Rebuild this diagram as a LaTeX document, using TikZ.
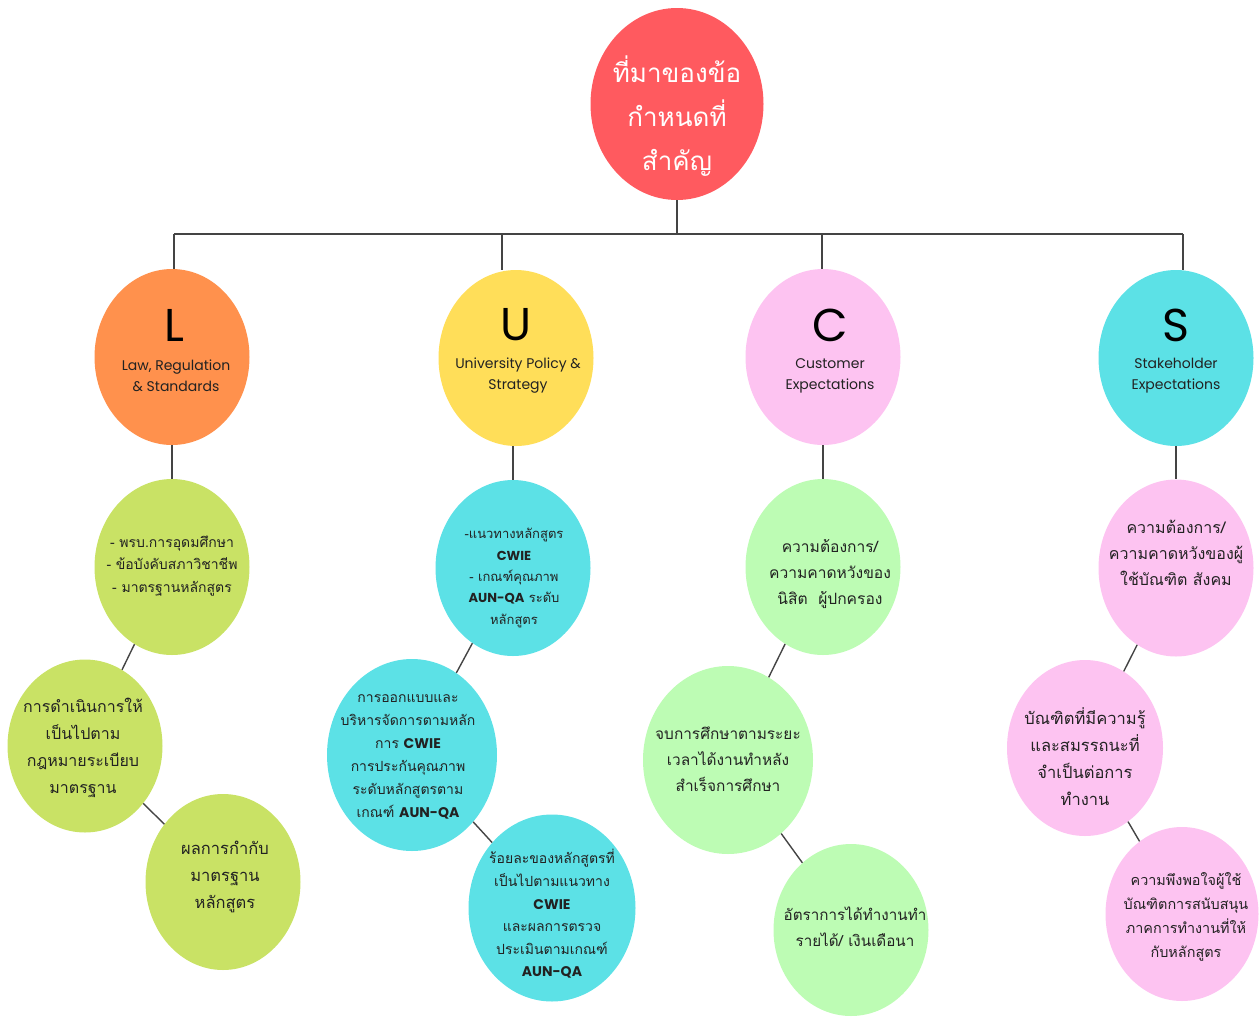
\documentclass[tikz,border=0pt]{standalone}
\usepackage{fontspec}
\setmainfont{Poppins}
\newfontfamily\thai[Script=Thai]{Loma}
\usetikzlibrary{shapes.geometric}
\definecolor{toprd}{HTML}{FF5A5F}
\definecolor{orng}{HTML}{FF914D}
\definecolor{yell}{HTML}{FFDE59}
\definecolor{pnk}{HTML}{FDC3F1}
\definecolor{cyn}{HTML}{5CE1E6}
\definecolor{lime}{HTML}{C9E265}
\definecolor{mint}{HTML}{BDFCB4}
\definecolor{ink}{HTML}{222222}
\definecolor{wire}{HTML}{444444}
\newcommand\engb[1]{{\rmfamily\bfseries #1}}

\begin{document}
\begin{tikzpicture}[x=1pt, y=-1pt,
    bub/.style={ellipse, fill=#1, inner sep=0pt, minimum width=155pt, minimum height=176pt},
    txt/.style 2 args={align=center, text=ink, font=\thai\fontsize{#1}{#2}\selectfont},
    eng/.style={align=center, text=ink, font=\fontsize{14}{21}\selectfont},
    big/.style={text=black, font=\fontsize{46}{46}\selectfont},
    wire/.style={draw=wire, line width=1.4pt}]
    \useasboundingbox (0,0) rectangle (1259,1018);
    % root
    \node [bub=toprd, minimum width=173pt, minimum height=192pt] (root) at (677,104) {};
    \node [txt={26}{44}, text=white] (roott) at (677,116) {ที่มาของข้อ\\กำหนดที่\\สำคัญ};
    % L U C S
    \node [bub=orng] (L) at (172,357) {};
    \node [bub=yell] (U) at (516,358) {};
    \node [bub=pnk] (C) at (823,357) {};
    \node [bub=cyn] (S) at (1176,358) {};
    \node [big] (Lk) at (174,325) {L};
    \node [big] (Uk) at (516,325) {U};
    \node [big] (Ck) at (830,325) {C};
    \node [big] (Sk) at (1176,325) {S};
    \node [eng] (Lt) at (176,376) {Law, Regulation\\\& Standards};
    \node [eng] (Ut) at (518,376) {University Policy \&\\Strategy};
    \node [eng] (Ct) at (830,376) {Customer\\Expectations};
    \node [eng] (St) at (1176,376) {Stakeholder\\Expectations};
    % L column
    \node [bub=lime] (L1) at (172,567) {};
    \node [bub=lime, minimum height=173pt] (L2) at (85,746) {};
    \node [bub=lime] (L3) at (223,882) {};
    \node [txt={14}{22.5}] (L1t) at (172,566) {- พรบ.การอุดมศึกษา\\- ข้อบังคับสภาวิชาชีพ\\- มาตรฐานหลักสูตร};
    \node [txt={16}{27}] (L2t) at (83,748) {การดำเนินการให้\\เป็นไปตาม\\กฎหมายระเบียบ\\มาตรฐาน};
    \node [txt={16.5}{27}] (L3t) at (225,877) {ผลการกำกับ\\มาตรฐาน\\หลักสูตร};
    % U column
    \node [bub=cyn] (U1) at (513,568) {};
    \node [bub=cyn, minimum width=170pt, minimum height=192pt] (U2) at (412,755) {};
    \node [bub=cyn, minimum width=167pt, minimum height=187pt] (U3) at (552,908) {};
    \node [txt={13}{21.3}] (U1t) at (514,578) {-แนวทางหลักสูตร\\\engb{CWIE}\\- เกณฑ์คุณภาพ\\\engb{AUN-QA} ระดับ\\หลักสูตร};
    \node [txt={14}{23}] (U2t) at (408,757) {การออกแบบและ\\บริหารจัดการตามหลัก\\การ \engb{CWIE}\\การประกันคุณภาพ\\ระดับหลักสูตรตาม\\เกณฑ์ \engb{AUN-QA}};
    \node [txt={14}{22.6}] (U3t) at (552,914) {ร้อยละของหลักสูตรที่\\เป็นไปตามแนวทาง\\\engb{CWIE}\\และผลการตรวจ\\ประเมินตามเกณฑ์\\\engb{AUN-QA}};
    % C column
    \node [bub=mint] (C1) at (823,567) {};
    \node [bub=mint, minimum width=170pt, minimum height=188pt] (C2) at (728,760) {};
    \node [bub=mint, minimum height=172pt] (C3) at (851,930) {};
    \node [txt={15.6}{26}] (C1t) at (830,574) {ความต้องการ/\\ความคาดหวังของ\\นิสิต\ \ ผู้ปกครอง};
    \node [txt={15.4}{26}] (C2t) at (728,759) {จบการศึกษาตามระยะ\\เวลาได้งานทำหลัง\\สำเร็จการศึกษา};
    \node [txt={15.2}{26}] (C3t) at (855,927) {อัตราการได้ทำงานทำ\\รายได้/ เงินเดือนา};
    % S column
    \node [bub=pnk, minimum height=177pt] (S1) at (1176,568) {};
    \node [bub=pnk, minimum width=156pt] (S2) at (1085,748) {};
    \node [bub=pnk, minimum width=153pt, minimum height=174pt] (S3) at (1182,914) {};
    \node [txt={16}{26}] (S1t) at (1176,553) {ความต้องการ/\\ความคาดหวังของผู้\\ใช้บัณฑิต สังคม};
    \node [txt={16.5}{27}] (S2t) at (1085,757) {บัณฑิตที่มีความรู้\\และสมรรถนะที่\\จำเป็นต่อการ\\ทำงาน};
    \node [txt={14.4}{24}] (S3t) at (1186,917) {ความพึงพอใจผู้ใช้\\บัณฑิตการสนับสนุน\\ภาคการทำงานที่ให้\\กับหลักสูตร};
    % tree
    \coordinate (busL) at (174,234);
    \coordinate (busU) at (502,234);
    \coordinate (busC) at (822,234);
    \coordinate (busS) at (1183,234);
    \draw [wire] (root) -- (root |- busL);
    \draw [wire] (busL) -- (busS);
    \draw [wire] (busL) -- (busL |- L.north);
    \draw [wire] (busU) -- (busU |- U.north);
    \draw [wire] (busC) -- (busC |- C.north);
    \draw [wire] (busS) -- (busS |- S.north);
    \draw [wire] (L) -- (L1);
    \draw [wire] (L1) -- (L2);
    \draw [wire] (L2) -- (L3);
    \draw [wire] (U1 |- U.south) -- (U1);
    \draw [wire] (U1) -- (U2);
    \draw [wire] (U2) -- (U3);
    \draw [wire] (C) -- (C1);
    \draw [wire] (C1) -- (C2);
    \draw [wire] (C2) -- (C3);
    \draw [wire] (S) -- (S1);
    \draw [wire] (S1) -- (S2);
    \draw [wire] (S2) -- (S3);
\end{tikzpicture}
\end{document}
